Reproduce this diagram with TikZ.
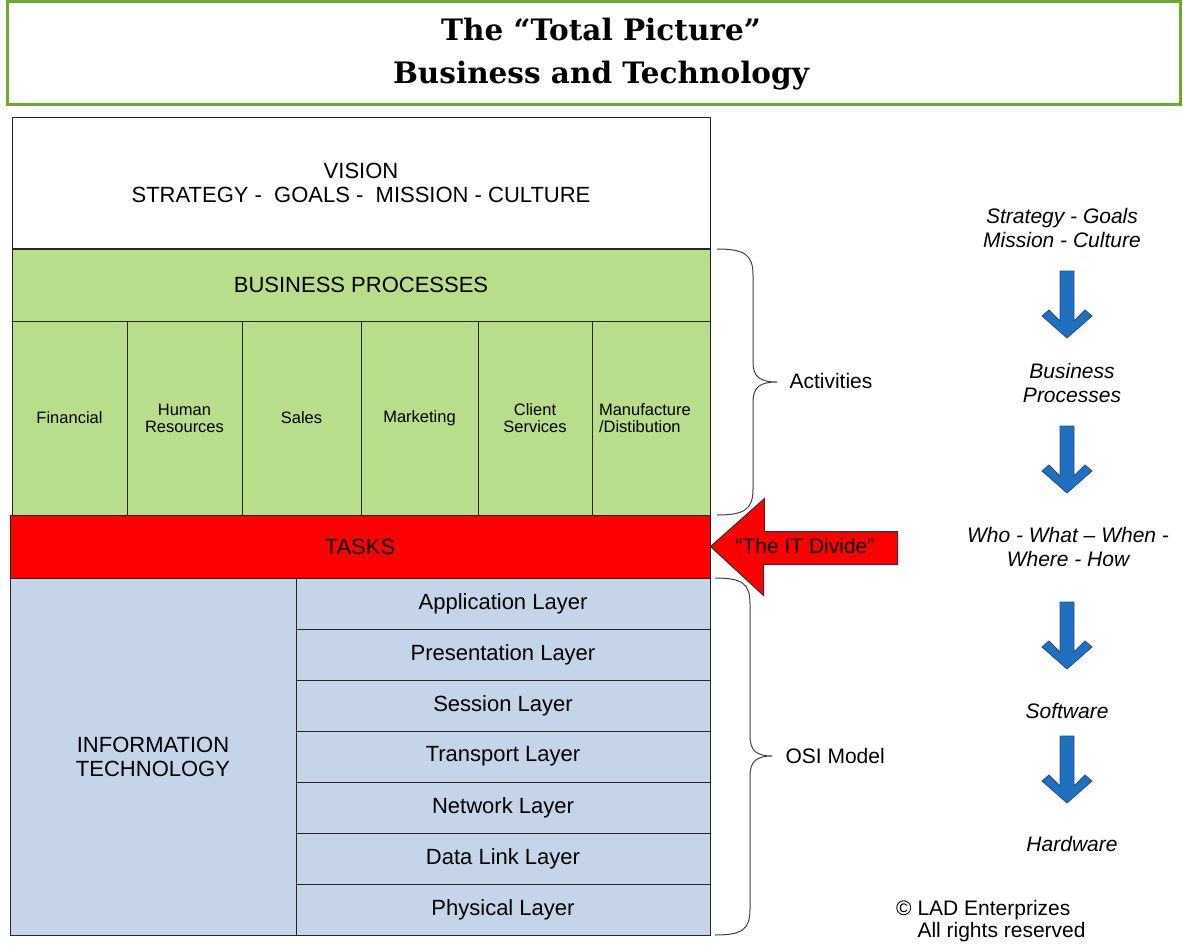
\documentclass[tikz,border=0pt]{standalone}
\usepackage{fontspec}
\setmainfont{Liberation Sans}
\newfontfamily\titlefont{DejaVu Serif}
\usetikzlibrary{positioning}

\definecolor{bpgreen}{RGB}{184,222,140}
\definecolor{itblue}{RGB}{198,212,234}
\definecolor{framegreen}{RGB}{106,170,46}
\definecolor{arrowblue}{RGB}{31,112,192}
\definecolor{arrowedge}{RGB}{40,78,130}

\tikzset{
  box/.style={draw=black!85, line width=1pt, inner sep=0pt, align=center,
    font=\fontsize{22}{24}\selectfont},
  dept/.style={box, fill=bpgreen, minimum height=194, font=\fontsize{16.5}{17}\selectfont},
  layer/.style={box, fill=itblue, minimum width=414, minimum height=51},
  side/.style={align=center, font=\fontsize{21}{24}\selectfont\itshape},
  titletext/.style={anchor=base, inner sep=0pt, font=\titlefont\bfseries\fontsize{29.5}{32}\selectfont},
  brace/.style={draw=black!75, line width=1pt},
}

\begin{document}
\begin{tikzpicture}[x=1pt, y=-1pt]
    \useasboundingbox (0,0) rectangle (1183,945);

    % --- title banner ---
    \node[draw=framegreen, line width=3pt, minimum width=1173, minimum height=103,
      inner sep=0pt] (title) at (593.5,52.5) {};
    \node[titletext] (t1) at (601,40) {The “Total Picture”};
    \node[titletext] (t2) at (601,83) {Business and Technology};

    % --- business stack ---
    \node[box, fill=white, minimum width=698, minimum height=131] (vision) at (361,182.5)
      {VISION\\STRATEGY -\ \ GOALS -\ \ MISSION - CULTURE};
    \node[box, fill=bpgreen, minimum width=698, minimum height=72] (bp) at (361,285)
      {BUSINESS PROCESSES};

    \node[dept, minimum width=115] (fin) at (69.5,418) {Financial};
    \node[dept, minimum width=115] (hr) at (184.5,418) {Human\\Resources};
    \node[dept, minimum width=119] (sales) at (301.5,418) {Sales};
    \node[dept, minimum width=117] (mkt) at (419.5,418) {Marketing};
    \node[dept, minimum width=114] (cs) at (535,418) {Client\\Services};
    \node[dept, minimum width=118, text width=104, align=left] (man) at (651,418)
      {Manufacture\\/Distibution};

    \node[box, fill=red, minimum width=700, minimum height=63] (tasks) at (360,546.5) {TASKS};

    % --- IT stack with the OSI layers ---
    \node[box, fill=itblue, minimum width=286, minimum height=357] (it) at (153,756.5)
      {INFORMATION\\TECHNOLOGY};
    \node[layer] (app) at (503,603.5) {Application Layer};
    \node[layer] (pres) at (503,654.5) {Presentation Layer};
    \node[layer] (sess) at (503,705.5) {Session Layer};
    \node[layer] (trans) at (503,756.5) {Transport Layer};
    \node[layer] (net) at (503,807.5) {Network Layer};
    \node[layer] (dll) at (503,858.5) {Data Link Layer};
    \node[layer] (phys) at (503,909.5) {Physical Layer};

    % --- braces ---
    \draw[brace] (717,249) .. controls (745,249) and (753,255) .. (753,275) -- (753,362)
      .. controls (753,377) and (760,382) .. (777,382)
      .. controls (760,382) and (753,387) .. (753,402) -- (753,489)
      .. controls (753,509) and (745,515) .. (717,515);
    \node[font=\fontsize{21}{24}\selectfont, anchor=west] (act) at (786,381) {Activities};

    \draw[brace] (715,578) .. controls (743,578) and (750,584) .. (750,604) -- (750,736)
      .. controls (750,751) and (757,756) .. (772,756)
      .. controls (757,756) and (750,761) .. (750,776) -- (750,909)
      .. controls (750,929) and (743,935) .. (715,935);
    \node[font=\fontsize{21}{24}\selectfont, anchor=west] (osi) at (782,756) {OSI Model};

    % --- the IT divide ---
    \draw[fill=red, draw=black!80, line width=1pt, shift={(tasks.east)}]
      (0,0) -- (54,-48) -- (54,-15) -- (187,-15) -- (187,18) -- (53,18) -- (53,49) -- cycle;
    \node[font=\fontsize{21}{24}\selectfont] (divide) at (805,546) {“The IT Divide”};

    % --- right hand column ---
    \node[side] (s1) at (1062,228) {Strategy - Goals\\Mission - Culture};
    \node[side] (s2) at (1072,383) {Business\\Processes};
    \node[side] (s3) at (1068,547) {Who - What – When -\\Where - How};
    \node[side] (s4) at (1067,711) {Software};
    \node[side] (s5) at (1072,844) {Hardware};

    \foreach \t in {271,426,602,736}
      \draw[fill=arrowblue, draw=arrowedge, line width=0.8pt, shift={(1067,\t)}]
        (-7,0) -- (7,0) -- (7,50) -- (18,39) -- (25,45) -- (0,67)
        -- (-25,45) -- (-18,39) -- (-7,50) -- cycle;

    \node[align=left, anchor=north west, inner sep=0pt, font=\fontsize{21}{22}\selectfont]
      (copy) at (896,900) {© LAD Enterprizes\\\phantom{©} All rights reserved};

\end{tikzpicture}
\end{document}
